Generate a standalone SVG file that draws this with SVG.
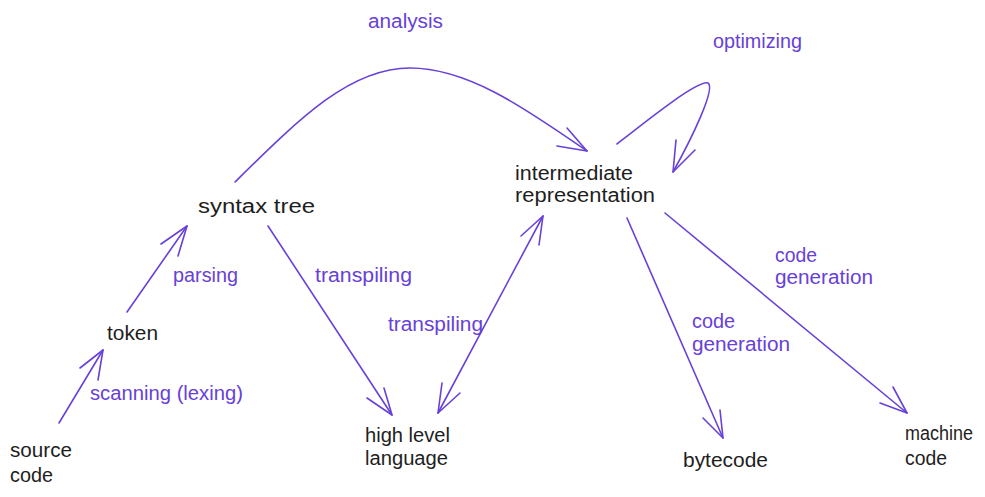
<svg xmlns="http://www.w3.org/2000/svg" width="985" height="497" viewBox="0 0 985 497">
<style>
.n{font-family:"Liberation Sans",Arial,sans-serif;font-size:20px;fill:#1e1e1e}
.l{font-family:"Liberation Sans",Arial,sans-serif;font-size:20px;fill:#6741d9}
.c{fill:none;stroke:#6741d9;stroke-width:1.6;stroke-linecap:round;stroke-linejoin:round}
</style>
<rect width="985" height="497" fill="#ffffff"/>
<g id="connectors">
  <g id="e-source-token"><path class="c" d="M59,423 L103,350"/><path class="c" d="M80,368 L103,350 L98,380"/></g>
  <g id="e-token-syntax"><path class="c" d="M127,312 L187,226"/><path class="c" d="M161,244 L187,226 L178,256"/></g>
  <g id="e-syntax-high"><path class="c" d="M268,226 L392,415"/><path class="c" d="M367,398 L392,415 L384,388"/></g>
  <g id="e-high-ir"><path class="c" d="M438,413 L543,216"/><path class="c" d="M442,383 L438,413 L460,393"/><path class="c" d="M521,236 L543,216 L539,245"/></g>
  <g id="e-analysis"><path class="c" d="M235,182 C300,118 350,68 410,68 C470,68 530,112 587,151"/><path class="c" d="M567,128 L587,151 L557,146"/></g>
  <g id="e-optimizing"><path class="c" d="M617,144 C650,118 698,80 708,83 C716,88 692,138 673,172"/><path class="c" d="M676,140 L673,172 L695,150"/></g>
  <g id="e-ir-bytecode"><path class="c" d="M627,218 L723,438"/><path class="c" d="M703,418 L723,438 L720,410"/></g>
  <g id="e-ir-machine"><path class="c" d="M665,213 L907,413"/><path class="c" d="M880,403 L907,413 L893,387"/></g>
</g>
<g id="labels">
  <text class="l" x="368" y="28" textLength="75" lengthAdjust="spacingAndGlyphs">analysis</text>
  <text class="l" x="713" y="48" textLength="89" lengthAdjust="spacingAndGlyphs">optimizing</text>
  <text class="l" x="173" y="282" textLength="65" lengthAdjust="spacingAndGlyphs">parsing</text>
  <text class="l" x="315" y="282" textLength="97" lengthAdjust="spacingAndGlyphs">transpiling</text>
  <text class="l" x="388" y="331" textLength="95" lengthAdjust="spacingAndGlyphs">transpiling</text>
  <text class="l" x="90" y="400" textLength="153" lengthAdjust="spacingAndGlyphs">scanning (lexing)</text>
  <text class="l" x="775" y="262" textLength="42" lengthAdjust="spacingAndGlyphs">code</text>
  <text class="l" x="775" y="284" textLength="98" lengthAdjust="spacingAndGlyphs">generation</text>
  <text class="l" x="692" y="328" textLength="43" lengthAdjust="spacingAndGlyphs">code</text>
  <text class="l" x="692" y="351" textLength="98" lengthAdjust="spacingAndGlyphs">generation</text>
</g>
<g id="source-code"><text class="n" x="10" y="457" textLength="62" lengthAdjust="spacingAndGlyphs">source</text><text class="n" x="10" y="482" textLength="43" lengthAdjust="spacingAndGlyphs">code</text></g>
<g id="token"><text class="n" x="107" y="340" textLength="51" lengthAdjust="spacingAndGlyphs">token</text></g>
<g id="syntax-tree"><text class="n" x="198" y="213" textLength="117" lengthAdjust="spacingAndGlyphs">syntax tree</text></g>
<g id="high-level-language"><text class="n" x="365" y="442" textLength="85" lengthAdjust="spacingAndGlyphs">high level</text><text class="n" x="365" y="465" textLength="83" lengthAdjust="spacingAndGlyphs">language</text></g>
<g id="intermediate-representation"><text class="n" x="515" y="180" textLength="118" lengthAdjust="spacingAndGlyphs">intermediate</text><text class="n" x="515" y="202" textLength="140" lengthAdjust="spacingAndGlyphs">representation</text></g>
<g id="bytecode"><text class="n" x="683" y="467" textLength="85" lengthAdjust="spacingAndGlyphs">bytecode</text></g>
<g id="machine-code"><text class="n" x="905" y="440" textLength="68" lengthAdjust="spacingAndGlyphs">machine</text><text class="n" x="905" y="465" textLength="42" lengthAdjust="spacingAndGlyphs">code</text></g>
</svg>
